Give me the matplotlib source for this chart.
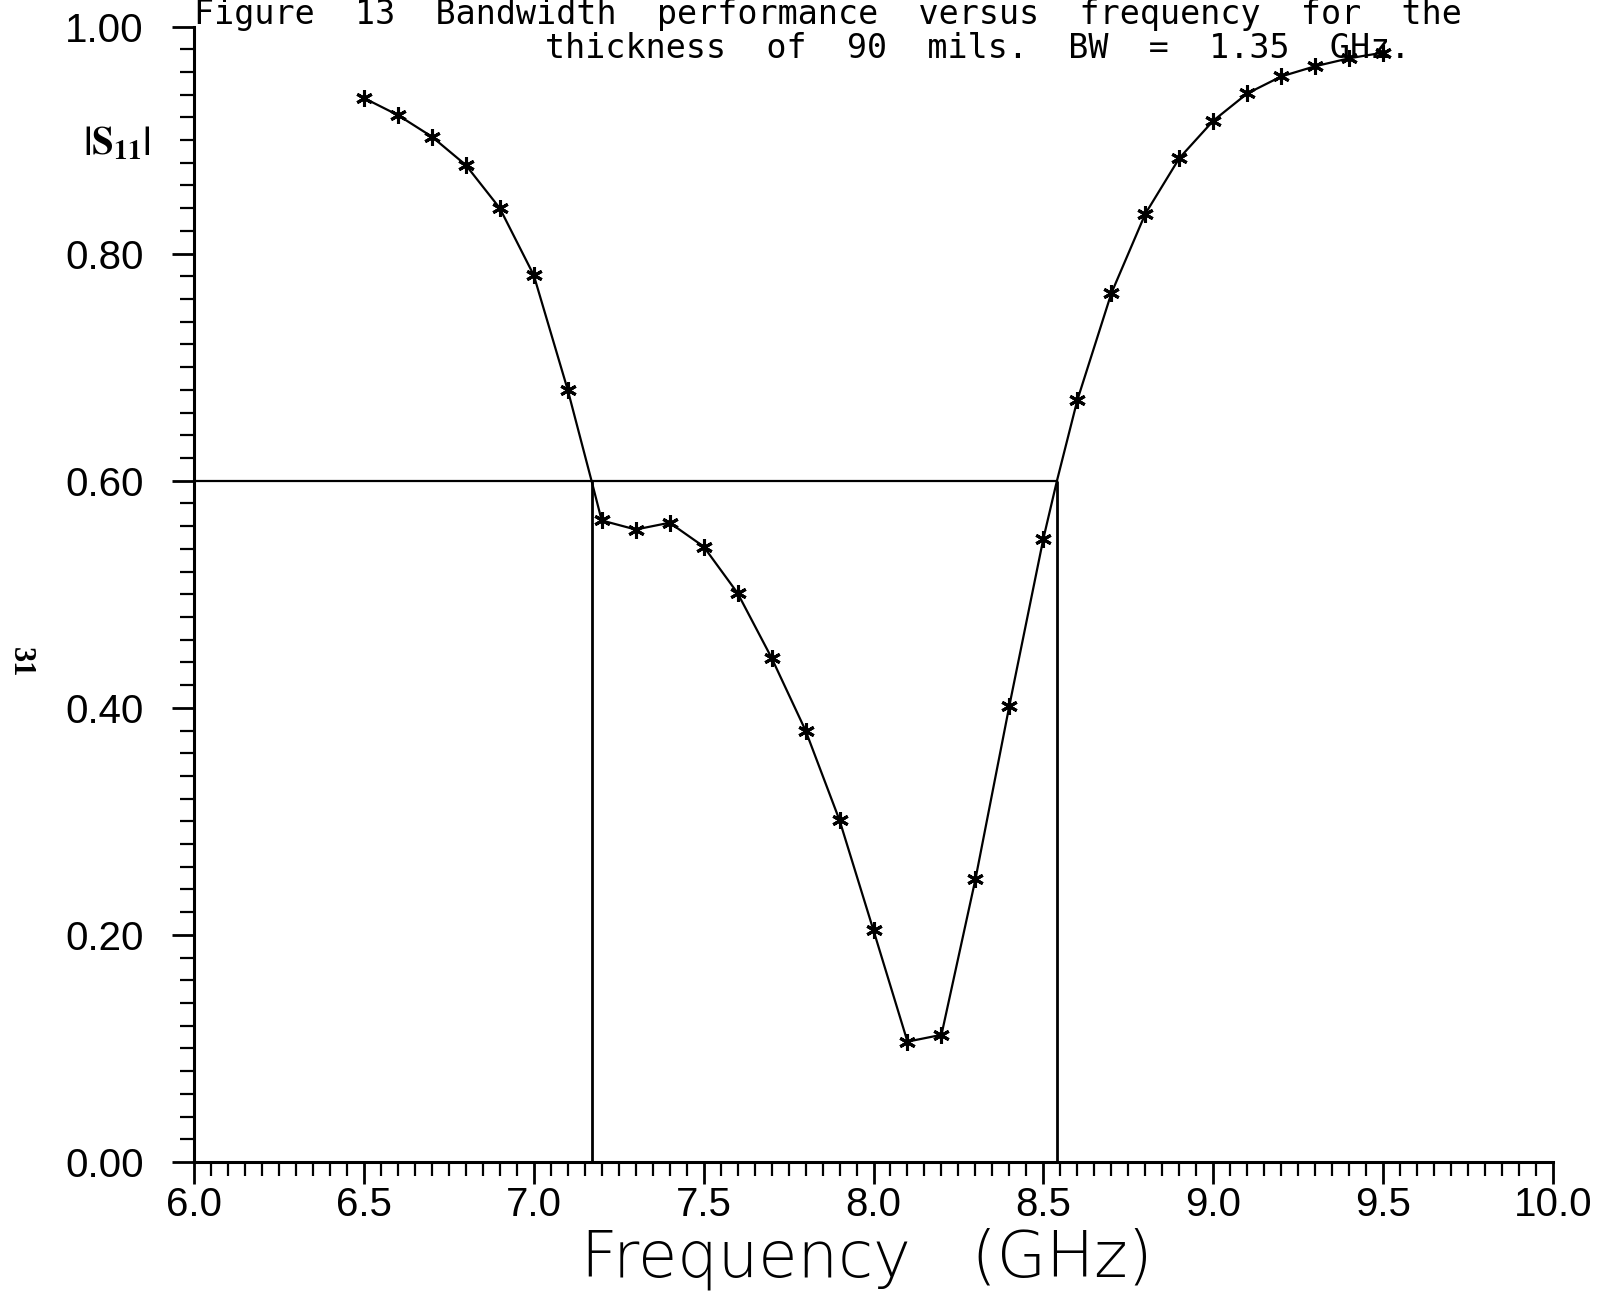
import numpy as np
import matplotlib
matplotlib.use("Agg")
from matplotlib import pyplot as plt
from matplotlib.ticker import MultipleLocator

freq = [6.5, 6.6, 6.7, 6.8, 6.9, 7.0, 7.1, 7.2, 7.3, 7.4, 7.5, 7.6, 7.7, 7.8,
        7.9, 8.0, 8.1, 8.2, 8.3, 8.4, 8.5, 8.6, 8.7, 8.8, 8.9, 9.0, 9.1, 9.2,
        9.3, 9.4, 9.5]
s11 = [0.937, 0.922, 0.903, 0.878, 0.840, 0.781, 0.680, 0.565, 0.557, 0.563,
       0.542, 0.501, 0.444, 0.380, 0.301, 0.204, 0.106, 0.112, 0.249, 0.402,
       0.549, 0.671, 0.765, 0.835, 0.884, 0.917, 0.941, 0.956, 0.965, 0.972,
       0.977]

# band edges at |S11| = 0.6
level = 0.60
f_lo = 7.17
f_hi = 8.54

xticks = [6.0, 6.5, 7.0, 7.5, 8.0, 8.5, 9.0, 9.5, 10.0]
yticks = [0.0, 0.2, 0.4, 0.6, 0.8, 1.0]

title1 = "Figure  13  Bandwidth  performance  versus  frequency  for  the"
title2 = "thickness  of  90  mils.  BW  =  1.35  GHz."

W, H = 1597, 1302
fig = plt.figure(figsize=(W / 100, H / 100), dpi=100)
ax = fig.add_axes([194 / W, 1 - 1162 / H, (1553 - 194) / W, (1162 - 26.5) / H])

# curve goes through the two crossing points as well
fx = np.array(freq + [f_lo, f_hi])
fy = np.array(s11 + [level, level])
order = np.argsort(fx)
ax.plot(fx[order], fy[order], color="black", lw=1.6)
ax.plot(freq, s11, ls="none", marker=(6, 2, 0), ms=12, mew=2.2, color="black")

ax.plot([6.0, f_hi], [level, level], color="black", lw=1.6)
ax.vlines([f_lo, f_hi], 0, level, color="black", lw=2)

ax.set_xlim(6, 10)
ax.set_ylim(0, 1)
for side in ["top", "right"]:
    ax.spines[side].set_visible(False)
for side in ["left", "bottom"]:
    ax.spines[side].set_linewidth(2.2)

ax.set_xticks(xticks)
ax.set_xticklabels(["%.1f" % v for v in xticks])
ax.set_yticks(yticks)
ax.set_yticklabels(["%.2f" % v for v in yticks])
ax.xaxis.set_minor_locator(MultipleLocator(0.05))
ax.yaxis.set_minor_locator(MultipleLocator(0.02))
ax.tick_params(which="major", length=16, width=2, direction="out")
ax.tick_params(which="minor", length=10, width=1.6, direction="out")
ax.tick_params(axis="x", which="major", pad=1)
ax.tick_params(axis="y", which="major", pad=20)
for lab in ax.get_xticklabels() + ax.get_yticklabels():
    lab.set_fontfamily("Liberation Sans")
    lab.set_fontsize(29)

fig.text(867 / W, 1 - 1277 / H, "Frequency   (GHz)", ha="center", va="baseline",
         fontsize=46, family="DejaVu Sans", fontweight="light")

fig.text(194 / W, 1 - 24 / H, title1, ha="left", va="baseline",
         fontsize=24, family="DejaVu Sans Mono")
fig.text(545 / W, 1 - 58 / H, title2, ha="left", va="baseline",
         fontsize=24, family="DejaVu Sans Mono")

plt.rcParams["mathtext.fontset"] = "stix"
fig.text(117 / W, 1 - 143 / H, r"$\mathbf{|S_{11}|}$", ha="center", va="center",
         fontsize=28)
fig.text(20 / W, 1 - 662 / H, "31", ha="center", va="center", rotation=-90,
         fontsize=22, fontweight="bold", family="Liberation Serif")

fig.savefig("out.png", dpi=100)
